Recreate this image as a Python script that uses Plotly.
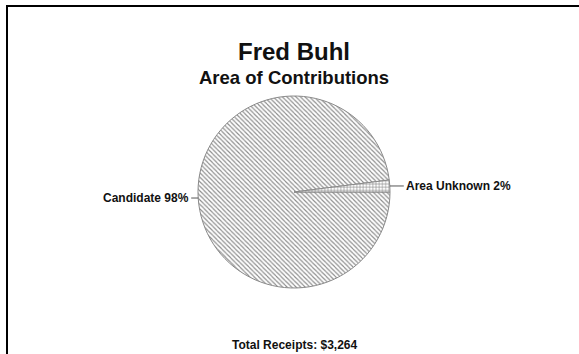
import math
import plotly.graph_objects as go

labels = ["Candidate", "Area Unknown"]
values = [98, 2]
patterns = ["\\", "+"]
title_text = "Fred Buhl"
subtitle_text = "Area of Contributions"
footer_text = "Total Receipts: $3,264"

W, H = 579, 354
FONT = "Liberation Sans, Arial, sans-serif"
INK = "#111111"

cx, cy, r = 294, 192, 96

fig = go.Figure(go.Pie(
    labels=labels,
    values=values,
    sort=False,
    direction="counterclockwise",
    rotation=90,
    textinfo="none",
    marker=dict(
        colors=["white", "white"],
        line=dict(color="#8a8a8a", width=1),
        pattern=dict(shape=patterns, fgcolor="#8c8c8c", bgcolor="white",
                     size=3.2, solidity=0.35),
    ),
    domain=dict(x=[(cx - r) / W, (cx + r) / W],
                y=[1 - (cy + r) / H, 1 - (cy - r) / H]),
    showlegend=False,
    hoverinfo="label+percent",
))

# slice labels with short leader lines at each slice's mid-angle.
# counterclockwise mode: the first slice ends at 3 o'clock, the rest follow ccw.
total = sum(values)
annots = []
cum = 0
for lab, v in zip(labels, values):
    mid = (cum + v / 2 - values[0]) / total
    cum += v
    ang = 2 * math.pi * mid
    px = cx + r * math.cos(ang)
    py = cy - r * math.sin(ang)
    right = math.cos(ang) >= 0
    annots.append(dict(
        text="<b>%s %d%%</b>" % (lab, round(100 * v / total)),
        x=px / W, y=1 - py / H, xref="paper", yref="paper",
        showarrow=True, arrowhead=0, arrowwidth=1, arrowcolor="#555555",
        ax=14 if right else -7, ay=0,
        xanchor="left" if right else "right", yanchor="middle",
        font=dict(family=FONT, size=12, color=INK),
    ))

fig.update_layout(
    width=W, height=H,
    margin=dict(l=0, r=0, t=0, b=0),
    paper_bgcolor="white",
    plot_bgcolor="white",
    font=dict(family=FONT, color=INK),
    title=dict(text="<b>" + title_text + "</b>", x=cx / W, xanchor="center",
               y=1 - 52 / H, yanchor="middle",
               font=dict(family=FONT, size=24, color=INK)),
    annotations=annots + [
        dict(text="<b>" + subtitle_text + "</b>", x=cx / W, y=1 - 77.5 / H,
             xref="paper", yref="paper", xanchor="center", yanchor="middle",
             showarrow=False, font=dict(family=FONT, size=18.5, color=INK)),
        dict(text="<b>" + footer_text + "</b>", x=cx / W, y=1 - 345 / H,
             xref="paper", yref="paper", xanchor="center", yanchor="middle",
             showarrow=False, font=dict(family=FONT, size=12, color=INK)),
    ],
    shapes=[
        dict(type="rect", xref="paper", yref="paper",
             x0=7 / W, x1=1.05, y0=-0.05, y1=1 - 6 / H,
             line=dict(color="black", width=2), fillcolor="rgba(0,0,0,0)"),
    ],
)

fig.write_html("out.html",
               config={"displayModeBar": False},
               post_script="document.body.style.margin='0';"
                           "document.body.style.padding='0';")
